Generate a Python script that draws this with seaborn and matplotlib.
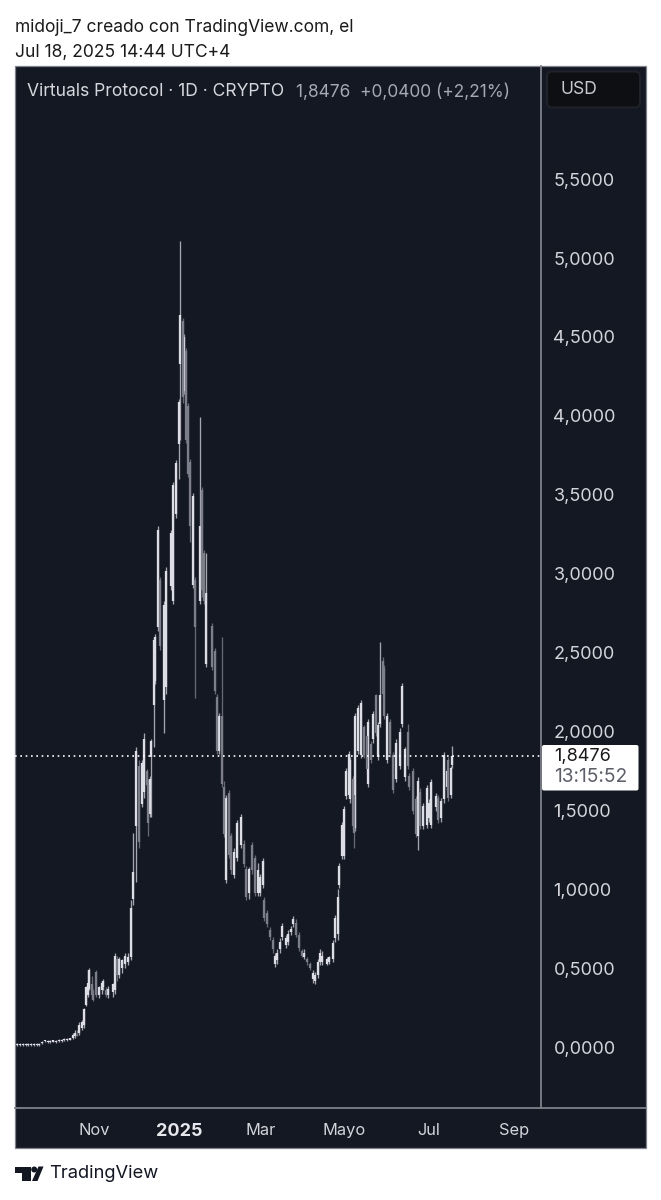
import pandas as pd
import numpy as np
import matplotlib
matplotlib.use('Agg')
import matplotlib.pyplot as plt
from matplotlib.patches import Rectangle, FancyBboxPatch, Polygon, Circle
import seaborn as sns

# дневные свечи, значения (день 0 = 5 сентября 2024)
start_date = '2024-09-05'

days = [1, 3, 5, 7, 9, 11, 13, 15, 17, 19, 21, 23, 25, 27, 29, 31, 33, 35, 37, 39,
        41, 43, 44, 46, 48, 49, 51, 52, 53, 55, 56, 58, 60, 62, 63, 65, 67, 70, 72, 73,
        75, 77, 79, 81, 83, 85, 87, 89, 91, 93, 95, 96, 97, 98, 100, 101, 103, 104, 107, 109,
        112, 114, 116, 118, 119, 121, 122, 123, 125, 126, 128, 130, 133, 135, 136, 138, 142, 144, 146, 147,
        149, 151, 152, 154, 156, 158, 160, 163, 165, 167, 169, 171, 173, 175, 177, 179, 180, 182, 184, 186,
        188, 189, 191, 193, 196, 197, 199, 201, 203, 205, 207, 209, 211, 213, 215, 217, 219, 220, 222, 225,
        227, 230, 231, 233, 234, 236, 238, 239, 241, 242, 244, 245, 246, 248, 250, 252, 254, 255, 257, 259,
        261, 262, 264, 266, 267, 269, 271, 273, 275, 278, 280, 282, 284, 285, 288, 290, 291, 293, 295, 298,
        299, 301, 304, 306, 308, 310, 312, 313, 315, 316]

opens = [.015, .015, .015, .015, .015, .015, .015, .015, .015, .027, .037, .034, .034, .036, .034, .039, .039, .044, .044, .049,
         .06, .07, .08, .09, .12, .14, .27, .33, .37, .40, .34, .48, .33, .36, .38, .36, .33, .35, .36, .56,
         .46, .50, .53, .54, .57, .94, 1.40, 1.78, 1.54, 1.62, 1.75, 1.66, 1.48, 1.84, 2.17, 2.32, 2.66, 2.96, 2.20, 2.28,
         2.92, 2.83, 3.38, 3.82, 4.33, 4.60, 4.16, 4.41, 4.06, 3.71, 2.93, 2.96, 2.83, 3.53, 3.13, 2.43, 2.67, 2.51, 2.22, 1.88,
         2.10, 1.65, 1.06, 1.61, 1.34, 1.09, 1.20, 1.28, 1.29, 1.13, .98, 1.28, 1.20, .98, .98, 1.03, .93, .85, .74, .68,
         .53, .55, .62, .70, .65, .67, .73, .78, .79, .71, .61, .57, .56, .53, .43, .42, .46, .54, .54, .53,
         .54, .56, .69, .72, 1.03, 1.21, 1.21, 1.59, 1.60, 1.57, 1.70, 1.60, 1.39, 1.88, 1.85, 2.03, 1.97, 1.67, 1.92, 1.95,
         2.23, 1.84, 2.05, 2.45, 2.40, 1.82, 2.06, 1.85, 1.70, 1.78, 2.05, 1.71, 2.00, 1.72, 1.75, 1.57, 1.34, 1.62, 1.40, 1.41,
         1.45, 1.41, 1.52, 1.58, 1.45, 1.57, 1.65, 1.82, 1.60, 1.79]

closes = [.023, .023, .023, .023, .023, .023, .023, .023, .023, .035, .045, .042, .042, .044, .042, .047, .047, .052, .052, .057,
          .08, .09, .07, .14, .16, .24, .38, .41, .49, .33, .30, .33, .38, .41, .42, .33, .37, .40, .58, .46,
          .56, .55, .58, .57, .88, 1.11, 1.88, 1.30, 1.80, 1.95, 1.66, 1.42, 1.70, 1.94, 2.58, 2.60, 3.28, 2.54, 2.80, 3.02,
          3.26, 3.56, 3.70, 4.09, 4.64, 4.12, 4.50, 3.85, 3.63, 3.30, 3.49, 2.66, 3.30, 2.90, 2.83, 2.88, 2.41, 2.26, 1.88, 2.10,
          1.67, 1.35, 1.58, 1.22, 1.12, 1.24, 1.42, 1.46, 1.16, .95, 1.13, 1.12, .98, 1.12, 1.08, 1.18, .82, .78, .70, .62,
          .58, .60, .67, .77, .69, .72, .75, .81, .71, .63, .58, .60, .54, .50, .47, .46, .54, .60, .58, .56,
          .57, .66, .82, .95, 1.15, 1.41, 1.51, 1.75, 1.86, 1.82, 1.40, 1.36, 2.10, 2.15, 2.18, 1.85, 1.76, 2.06, 1.82, 2.11,
          1.99, 2.04, 2.23, 2.24, 2.10, 2.10, 1.86, 1.63, 1.93, 2.00, 2.29, 1.89, 1.78, 1.65, 1.50, 1.35, 1.69, 1.40, 1.53, 1.64,
          1.55, 1.68, 1.59, 1.44, 1.56, 1.85, 1.75, 1.58, 1.77, 1.8476]

highs = [.027, .027, .027, .027, .027, .027, .027, .027, .027, .039, .049, .046, .046, .048, .046, .051, .051, .056, .056, .061,
         .09, .11, .11, .16, .17, .25, .39, .49, .50, .45, .37, .49, .39, .42, .43, .38, .39, .41, .60, .58,
         .57, .56, .60, .60, .93, 1.36, 1.90, 1.82, 1.82, 1.99, 1.76, 1.70, 1.72, 1.95, 2.60, 2.62, 3.30, 2.98, 2.83, 3.04,
         3.28, 3.58, 3.72, 4.11, 5.11, 4.62, 4.52, 4.43, 4.08, 3.73, 3.51, 2.98, 3.99, 3.55, 3.15, 3.13, 2.69, 2.53, 2.24, 2.12,
         2.60, 1.69, 1.60, 1.63, 1.36, 1.26, 1.44, 1.48, 1.31, 1.15, 1.14, 1.30, 1.22, 1.17, 1.10, 1.20, .95, .87, .76, .70,
         .60, .62, .69, .79, .71, .74, .77, .83, .81, .73, .62, .62, .57, .54, .49, .48, .56, .62, .61, .57,
         .58, .68, .84, 1.00, 1.17, 1.43, 1.53, 1.77, 1.88, 1.84, 1.72, 1.62, 2.12, 2.17, 2.20, 2.04, 1.98, 2.08, 1.94, 2.13,
         2.24, 2.06, 2.57, 2.47, 2.42, 2.12, 2.08, 1.87, 1.95, 2.02, 2.31, 1.90, 2.05, 1.74, 1.77, 1.59, 1.71, 1.64, 1.55, 1.66,
         1.57, 1.70, 1.61, 1.60, 1.58, 1.87, 1.77, 1.84, 1.78, 1.91]

lows = [.011, .011, .011, .011, .011, .011, .011, .011, .011, .023, .033, .030, .030, .032, .030, .035, .035, .040, .040, .045,
        .055, .06, .07, .08, .11, .12, .26, .32, .36, .31, .29, .32, .31, .34, .36, .32, .31, .32, .34, .42,
        .44, .47, .50, .52, .55, .90, 1.05, 1.26, 1.52, 1.58, 1.65, 1.34, 1.46, 1.46, 1.90, 2.30, 2.64, 2.52, 1.99, 2.24,
        2.90, 2.81, 3.35, 3.60, 3.85, 4.08, 4.14, 3.83, 3.61, 3.20, 2.91, 2.21, 2.81, 2.85, 2.81, 2.41, 2.39, 2.24, 1.86, 1.86,
        1.65, 1.33, 1.04, 1.20, 1.10, 1.07, 1.18, 1.26, 1.14, .93, .94, 1.10, .96, .96, .96, 1.01, .80, .76, .68, .60,
        .51, .53, .60, .68, .63, .65, .71, .76, .70, .61, .57, .56, .52, .49, .41, .40, .44, .52, .52, .52,
        .53, .54, .67, .68, 1.01, 1.19, 1.19, 1.57, 1.58, 1.55, 1.38, 1.26, 1.37, 1.86, 1.83, 1.83, 1.74, 1.65, 1.80, 1.93,
        1.97, 1.82, 2.03, 2.22, 2.08, 1.80, 1.84, 1.61, 1.68, 1.76, 2.03, 1.69, 1.76, 1.63, 1.48, 1.33, 1.25, 1.38, 1.38, 1.39,
        1.43, 1.39, 1.50, 1.42, 1.43, 1.55, 1.63, 1.56, 1.58, 1.77]

price_ticks = [0, .5, 1, 1.5, 2, 2.5, 3, 3.5, 4, 4.5, 5, 5.5]
price_labels = ['0,0000', '0,5000', '1,0000', '1,5000', '2,0000', '2,5000',
                '3,0000', '3,5000', '4,0000', '4,5000', '5,0000', '5,5000']
month_ticks = ['2024-11-01', '2025-01-01', '2025-03-01', '2025-05-01', '2025-07-01', '2025-09-01']
month_labels = ['Nov', '2025', 'Mar', 'Mayo', 'Jul', 'Sep']
last_price = 1.8476

bg = '#141823'
border = '#7f818b'

sns.set_theme(style='dark')
plt.rcParams['font.family'] = ['Inter', 'DejaVu Sans']

W, H = 661, 1200
fig = plt.figure(figsize=(W / 100, H / 100), dpi=100, facecolor='white')


def px_rect(x0, y0, x1, y1):
    return [x0 / W, 1 - y1 / H, (x1 - x0) / W, (y1 - y0) / H]


# подложка в пикселях
back = fig.add_axes([0, 0, 1, 1], zorder=0)
back.set_xlim(0, W)
back.set_ylim(H, 0)
back.axis('off')
back.add_patch(Rectangle((15, 66), 631, 1082, facecolor=bg, edgecolor=border, linewidth=0.9))

# свечи
df = pd.DataFrame({'day': days, 'open': opens, 'close': closes, 'high': highs, 'low': lows})
df['date'] = pd.Timestamp(start_date) + pd.to_timedelta(df['day'], unit='D')
df['dir'] = np.where(df['close'] >= df['open'], 'up', 'down')
wicks = df.melt(id_vars=['date', 'dir'], value_vars=['low', 'high'], value_name='price')
bodies = df.melt(id_vars=['date', 'dir'], value_vars=['open', 'close'], value_name='price')

ax = fig.add_axes(px_rect(15, 66, 541, 1107.5), zorder=1)
ax.patch.set_alpha(0)

sns.lineplot(data=wicks, x='date', y='price', units='date', hue='dir', estimator=None,
             palette={'up': '#a4a6b0', 'down': '#666873'}, legend=False, linewidth=0.95,
             solid_capstyle='butt', ax=ax)
sns.lineplot(data=bodies, x='date', y='price', units='date', hue='dir', estimator=None,
             palette={'up': '#dcdde5', 'down': '#7c7e8a'}, legend=False, linewidth=1.65,
             solid_capstyle='butt', ax=ax)

ax.axhline(last_price, color='white', linewidth=1.2, linestyle=(0, (1, 2.2)), zorder=5)

ax.set_xlim(pd.Timestamp(start_date) - pd.Timedelta(days=0.7), pd.Timestamp(start_date) + pd.Timedelta(days=380.4))
ax.set_ylim(-0.3816, 6.2167)
ax.set_xlabel('')
ax.set_ylabel('')
ax.grid(False)

ax.yaxis.tick_right()
ax.set_yticks(price_ticks, price_labels)
ax.set_xticks(pd.to_datetime(month_ticks), month_labels)
ax.tick_params(axis='y', length=0, pad=9, labelsize=13, labelcolor='#d4d5db')
ax.tick_params(axis='x', length=0, pad=11, labelsize=11.8, labelcolor='#d4d5db')
ax.get_xticklabels()[1].set_fontweight('bold')
ax.get_xticklabels()[1].set_fontsize(13)
ax.get_xticklabels()[1].set_color('#e6e7ec')

for side in ['top', 'left']:
    ax.spines[side].set_visible(False)
for side in ['right', 'bottom']:
    ax.spines[side].set_color(border)
    ax.spines[side].set_linewidth(1.3)

# верхний слой: подписи, плашки, логотип
over = fig.add_axes([0, 0, 1, 1], zorder=2)
over.set_xlim(0, W)
over.set_ylim(H, 0)
over.axis('off')
over.patch.set_alpha(0)

over.plot([541, 646], [1107.5, 1107.5], color=border, linewidth=1.3)

over.text(15, 28, 'midoji_7 creado con TradingView.com, el', fontsize=12.55, color='#1a1a1c', va='center')
over.text(15, 52, 'Jul 18, 2025 14:44 UTC+4', fontsize=12.55, color='#1a1a1c', va='center')

over.text(27, 92, 'Virtuals Protocol · 1D · CRYPTO', fontsize=12.6, color='#d6d7dd', va='center')
over.text(296, 92, '1,8476  +0,0400 (+2,21%)', fontsize=12.45, color='#a6a8b2', va='center')

over.add_patch(FancyBboxPatch((547, 71.5), 93, 36, boxstyle='round,pad=0,rounding_size=5',
                              facecolor='#0e0f12', edgecolor='#1f2229', linewidth=1.5))
over.text(560, 90, 'USD', fontsize=12.6, color='#c8c9d0', va='center')

over.add_patch(FancyBboxPatch((542, 745), 96.5, 45.5, boxstyle='round,pad=0,rounding_size=2',
                              facecolor='white', edgecolor='none'))
over.text(554, 756.5, '1,8476', fontsize=13, color='#1a1a1c', va='center')
over.text(554, 777.5, '13:15:52', fontsize=13.8, color='#5d5f68', va='center')

# логотип TradingView
logo = '#131722'
over.add_patch(Polygon([(15, 1166.5), (30.5, 1166.5), (30.5, 1181), (21.5, 1181), (21.5, 1172.5), (15, 1172.5)],
                       facecolor=logo, edgecolor='none'))
over.add_patch(Circle((34.2, 1169.5), 3, facecolor=logo, edgecolor='none'))
over.add_patch(Polygon([(38.5, 1166.5), (43.5, 1166.5), (37.5, 1181), (32, 1181)],
                       facecolor=logo, edgecolor='none'))
over.text(49, 1173.5, 'TradingView', fontsize=13.2, color=logo, va='center')

fig.savefig('out.png', dpi=100)
